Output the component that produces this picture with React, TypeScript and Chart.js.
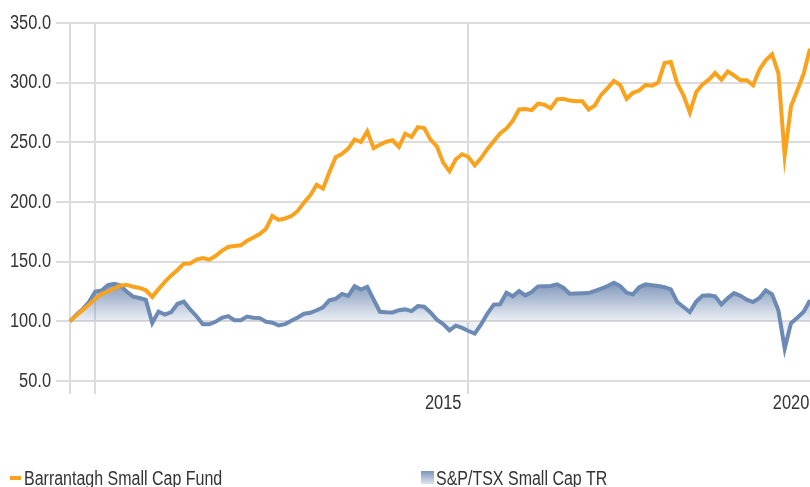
import React, { useEffect, useRef } from 'react';
import { Chart, registerables } from 'chart.js';

Chart.register(...registerables);

// Monthly growth of 100, Oct 2010 – Jul 2020
const startYear = 2010;
const startMonth = 9; // October (0-based)

const fundValues = [
  100, 105, 109.5, 114, 119, 123, 125, 127.5, 130, 130.5,
  129, 128, 126, 120.5, 127, 133, 138.5, 143, 148.3, 148.5,
  151.7, 153, 151.7, 154.7, 159, 162.3, 163.1, 163.7, 167.6, 170.2,
  173.2, 177.6, 188.3, 185, 186.2, 188.2, 192.5, 199.5, 205.7, 214.5,
  211.2, 225, 237.5, 240.3, 244.7, 252.5, 250.3, 259.2, 245.2, 248,
  250.5, 251.7, 246.1, 257.3, 254.5, 262.8, 262, 252.3, 246.7, 233,
  225.7, 235.8, 240, 237.7, 230.7, 236.8, 244.5, 251, 257.5, 261.5,
  268, 277.5, 278, 277, 282.5, 281.5, 278.5, 286, 286.5, 285,
  284.4, 284.4, 277.5, 281, 290, 295.5, 301.5, 298, 286.5, 291.5,
  293.4, 298, 297.5, 300, 316.5, 317.3, 299.5, 289.4, 274.9, 292,
  298.6, 302.5, 308.1, 302.5, 309.5, 306, 302, 302, 297.8, 310.9,
  318.7, 323.8, 308.1, 239.1, 280.2, 293.6, 307.6, 328.5,
];

const indexValues = [
  100, 105.6, 110.2, 116.2, 125, 125.8, 130.3, 131.5, 130, 124.7,
  120.7, 119.5, 118, 98.6, 108.2, 105.6, 107.7, 114.7, 116.5, 110,
  104.3, 97.6, 97.5, 99.6, 103, 104.4, 101, 101, 104, 103,
  102.7, 99.6, 98.9, 96.5, 97.7, 100.5, 103.2, 106.4, 107.2, 109.3,
  111.8, 117.7, 118.9, 123, 121.3, 129.5, 126.7, 129, 118.3, 108,
  107.6, 107.4, 109.3, 110, 108.6, 112.8, 112.2, 107.5, 101.4, 97.7,
  92.5, 96.4, 94.5, 91.9, 89.7, 97.5, 106.5, 114, 114.3, 124,
  121, 125.4, 121.8, 124.6, 129.3, 129.5, 129.6, 131, 128.2, 123.2,
  123.3, 123.5, 123.7, 125.5, 127.4, 129.6, 132.4, 129.6, 124, 122.6,
  128.7, 131, 130.3, 129.6, 128.7, 126.8, 116.2, 112, 107.8, 116.5,
  121.5, 121.8, 121, 114.2, 119.5, 123.7, 121.5, 118.2, 116.2, 119.5,
  126, 122.6, 109.2, 77.1, 98.5, 103, 108, 117.6,
];

const months = fundValues.map((_, i) => {
  const m = startMonth + i;
  return `${startYear + Math.floor(m / 12)}-${String((m % 12) + 1).padStart(2, '0')}`;
});

const xTickLabels = ['2015', '2020'];
const xTickMonths = ['2015-09', '2020-04'];
const xGridMonths = ['2010-10', '2011-02', '2016-01'];

const seriesNames = ['Barrantagh Small Cap Fund', 'S&P/TSX Small Cap TR'];

const ORANGE = '#F9A21E';
const BLUE = '#6C8AB4';
const GRID = '#dcdcdc';
const TEXT = '#333333';
const FONT = "'Liberation Sans', Arial, sans-serif";
const NARROW = 0.82; // horizontal squeeze to imitate a condensed face

// Draws the axis tick labels in a condensed style (Arial Narrow look-alike)
const condensedTickLabels = {
  id: 'condensedTickLabels',
  afterDraw(chart: any) {
    const { ctx } = chart;
    const ys = chart.scales.y;
    const xs = chart.scales.x;
    ctx.save();
    ctx.fillStyle = TEXT;
    ctx.font = `20px ${FONT}`;
    ctx.textBaseline = 'middle';

    ctx.textAlign = 'right';
    const yLabelRight = ys.right - ys.options.grid.tickLength - 5;
    ys.ticks.forEach((t: any) => {
      const py = ys.getPixelForValue(t.value);
      ctx.save();
      ctx.translate(yLabelRight, py);
      ctx.scale(NARROW, 1);
      ctx.fillText(Number(t.value).toFixed(1), 0, 0);
      ctx.restore();
    });

    ctx.textAlign = 'center';
    const xLabelY = xs.top + xs.options.grid.tickLength + 9.5;
    xTickMonths.forEach((m, k) => {
      const i = months.indexOf(m);
      if (i < 0) return;
      const px = xs.getPixelForValue(i);
      ctx.save();
      ctx.translate(px, xLabelY);
      ctx.scale(NARROW, 1);
      ctx.fillText(xTickLabels[k], 0, 0);
      ctx.restore();
    });
    ctx.restore();
  },
};

export default function App() {
  const canvasRef = useRef<HTMLCanvasElement | null>(null);

  useEffect(() => {
    const canvas = canvasRef.current;
    if (!canvas) return;
    const chart = new Chart(canvas, {
      type: 'line',
      data: {
        labels: months,
        datasets: [
          {
            label: seriesNames[0],
            data: fundValues,
            borderColor: ORANGE,
            borderWidth: 4,
            pointRadius: 0,
            tension: 0,
            fill: false,
          },
          {
            label: seriesNames[1],
            data: indexValues,
            borderColor: BLUE,
            borderWidth: 4,
            pointRadius: 0,
            tension: 0,
            fill: { value: 100 },
            backgroundColor: (ctx: any) => {
              const c = ctx.chart;
              if (!c.chartArea) return 'rgba(108,138,180,0.4)';
              const y = c.scales.y;
              const top = y.getPixelForValue(132);
              const base = y.getPixelForValue(100);
              const g = c.ctx.createLinearGradient(0, top, 0, base);
              g.addColorStop(0, 'rgba(108,135,176,0.85)');
              g.addColorStop(1, 'rgba(108,135,176,0.12)');
              return g;
            },
          },
        ],
      },
      options: {
        responsive: false,
        animation: false,
        layout: { padding: { top: 23, right: 0, bottom: 66, left: 0 } },
        plugins: {
          legend: { display: false },
          tooltip: { enabled: false },
        },
        scales: {
          x: {
            type: 'category',
            border: { display: false },
            grid: {
              color: (ctx: any) =>
                xGridMonths.includes(months[ctx.index]) ? GRID : 'rgba(0,0,0,0)',
              lineWidth: 2,
              tickLength: 13,
              drawTicks: true,
            },
            ticks: { display: false, autoSkip: false, maxRotation: 0, minRotation: 0 },
            afterFit: (s: any) => {
              s.height = 40;
            },
          },
          y: {
            min: 50,
            max: 350,
            border: { display: false },
            grid: { color: GRID, lineWidth: 2, tickLength: 14 },
            ticks: { display: false, stepSize: 50 },
            afterFit: (s: any) => {
              s.width = 70;
            },
          },
        },
      },
      plugins: [condensedTickLabels],
    });
    return () => chart.destroy();
  }, []);

  const legendText: React.CSSProperties = {
    position: 'absolute',
    top: 467,
    fontFamily: FONT,
    fontSize: 19.5,
    lineHeight: '22px',
    color: TEXT,
    whiteSpace: 'nowrap',
    transform: `scaleX(${NARROW})`,
    transformOrigin: 'left center',
  };

  return (
    <div style={{ position: 'fixed', left: 0, top: 0, width: 810, height: 487, background: '#fff', overflow: 'hidden' }}>
      <canvas ref={canvasRef} width={810} height={487} style={{ display: 'block' }} />
      <div style={{ position: 'absolute', left: 10, top: 476, width: 11, height: 4, background: ORANGE }} />
      <div style={{ ...legendText, left: 24 }}>{seriesNames[0]}</div>
      <div
        style={{
          position: 'absolute',
          left: 421,
          top: 471,
          width: 13,
          height: 13,
          background: 'linear-gradient(to bottom, #7d95bb, #dfe5ef)',
        }}
      />
      <div style={{ ...legendText, left: 436 }}>{seriesNames[1]}</div>
    </div>
  );
}
